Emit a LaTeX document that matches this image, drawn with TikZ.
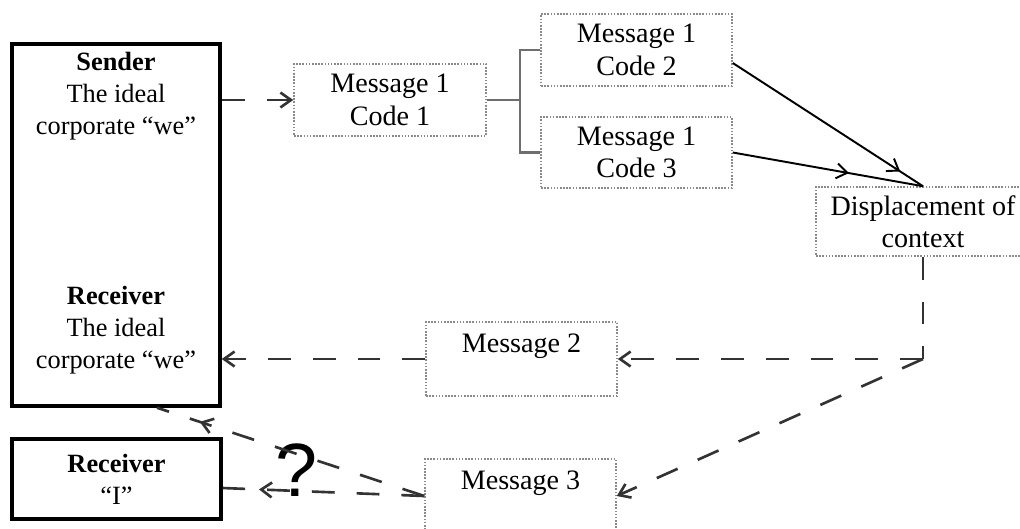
\documentclass[tikz,border=0pt]{standalone}
\usepackage{fontspec}
\setmainfont{Liberation Serif}
\setsansfont{Liberation Sans}
\usepackage{tikz}
\usetikzlibrary{arrows.meta,positioning,calc,decorations.markings}
\definecolor{LineGrey}{HTML}{333333}
\definecolor{BoxGrey}{HTML}{8A8A8A}
\definecolor{ForkGrey}{HTML}{6E6E6E}

\begin{document}
\begin{tikzpicture}[x=.02cm,y=-.02cm,font=\fontsize{16}{18.5}\selectfont,>={Straight Barb[length=6pt,width=8.5pt]}]
  \tikzset{
    party/.style={draw=black,line width=2pt,inner sep=0pt},
    partytext/.style={align=center,font=\fontsize{15}{18.2}\selectfont},
    msgbox/.style={draw=BoxGrey,line width=.9pt,dash pattern=on .9pt off .9pt,align=center,
      minimum width=3.82cm,minimum height=1.44cm,inner sep=2pt},
    dashline/.style={LineGrey,line width=1.5pt,dash pattern=on 13pt off 12.5pt},
    flow/.style={dashline,->},
    fork/.style={ForkGrey,line width=1.3pt},
    feed/.style={black,line width=1.1pt},
    midtip/.style={postaction={decorate,decoration={markings,mark=at position #1 with {\arrow{>}}}}}
  }
  \useasboundingbox (0,0) rectangle (1020,528);
  \clip (0,0) rectangle (1020,528);

  % the corporate "we" and the single reader
  \node[party,minimum width=4.16cm,minimum height=7.24cm] (we) at (116,225) {};
  \node[partytext] (sender) at (116,96) {\textbf{Sender}\\The ideal\\corporate “we”};
  \node[partytext] (recvwe) at (116,330) {\textbf{Receiver}\\The ideal\\corporate “we”};
  \node[party,partytext,minimum width=4.18cm,minimum height=1.6cm] (recvi) at (116.5,479)
    {\textbf{Receiver}\\“I”};

  % messages
  \node[msgbox,minimum width=3.84cm] (mc1) at (390,100) {Message 1\\Code 1};
  \node[msgbox] (mc2) at (636.5,50) {Message 1\\Code 2};
  \node[msgbox,minimum height=1.42cm] (mc3) at (636.5,152.5) {Message 1\\Code 3};
  \node[msgbox,minimum width=4.28cm,minimum height=1.38cm] (disp) at (923,221.5) {Displacement of\\context};
  \node[msgbox,minimum height=1.48cm] (msg2) at (521.5,359) {Message 2\\\mbox{}};
  \node[msgbox,minimum height=1.48cm] (msg3) at (520.5,496) {Message 3\\\mbox{}};
  \node[font=\sffamily\fontsize{43}{43}\selectfont,inner sep=0pt] (query) at (297,470) {?};

  % connectors
  \draw[flow] (we.east |- mc1.west) -- (mc1.west);
  \coordinate (split) at ($(mc1.east)+(33,0)$);
  \draw[fork] (mc1.east) -- (split) |- (mc2.west);
  \draw[fork] (split) |- (mc3.west);
  \draw[feed,midtip=.88] ([yshift=-.26cm]mc2.east) -- (disp.north);
  \draw[feed,midtip=.61] (mc3.east) -- (disp.north);

  \coordinate (turn) at (disp.south |- msg2.east);
  \draw[dashline] (disp.south) -- (turn);
  \draw[flow] (turn) -- (msg2.east);
  \draw[flow] (turn) -- (msg3.east);
  \draw[flow] (msg2.west) -- (we.east |- msg2.west);
  \draw[dashline,midtip=.84] (msg3.west) -- ([xshift=.82cm]we.south);
  \draw[dashline,midtip=.82] (msg3.west) -- ([yshift=-.18cm]recvi.east);
\end{tikzpicture}
\end{document}
